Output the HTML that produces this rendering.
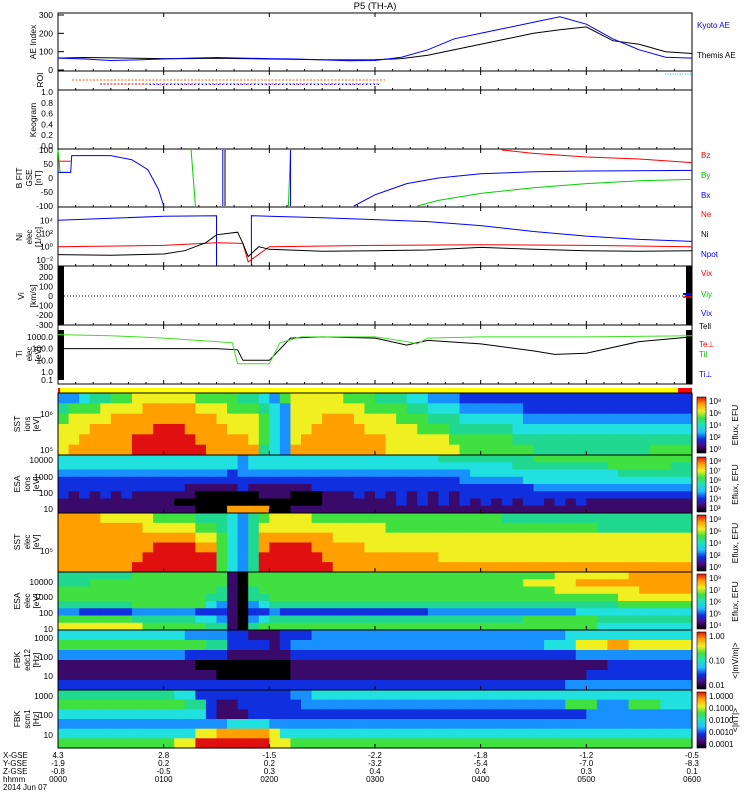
<!DOCTYPE html>
<html><head><meta charset="utf-8"><style>
body{margin:0;background:#fff;}
svg{display:block;font-family:"Liberation Sans",sans-serif;}
</style></head><body>
<svg id="c" width="750" height="800" viewBox="0 0 750 800"></svg>
<script>
// ---- data ----
const aeTimes=[0,0.25,0.5,0.75,1,1.25,1.5,1.75,2,2.25,2.5,2.75,3,3.25,3.5,3.75,4,4.25,4.5,4.75,5,5.25,5.5,5.75,6];
const kyotoAE=[65,60,52,55,60,65,68,65,62,60,55,50,52,70,110,170,200,230,260,290,250,170,110,70,65];
const themisAE=[65,68,66,64,62,62,64,62,60,58,56,55,56,62,80,110,140,170,200,220,235,160,140,100,90];
const bxSegs=[{t:[0,0.12,0.13,0.5,0.7,0.85,0.95,1.0],v:[20,20,80,80,65,30,-40,-100]},{t:[2.8,3.0,3.3,3.6,4.0,4.5,5,6],v:[-100,-60,-20,0,15,22,25,27]},{t:[1.56,1.56],v:[-100,100]},{t:[2.2,2.2],v:[-100,100]}];
const bySegs=[{t:[0,0.02,0.12],v:[100,20,20]},{t:[1.26,1.3],v:[100,-100]},{t:[2.18,2.2],v:[-100,100]},{t:[3.4,3.6,4,4.5,5,5.5,6],v:[-100,-80,-55,-35,-20,-10,-5]}];
const bzSegs=[{t:[0,0.12],v:[60,60]},{t:[4.2,4.5,5,5.5,6],v:[100,88,75,68,55]}];
const btSegs=[{t:[1.58,1.58],v:[-100,100]}];
const npotSegs=[{t:[0,0.5,1,1.5,1.5],v:[4.0,4.3,4.6,4.7,-3.5]},{t:[1.83,1.83,2,2.5,3,3.5,4,4.5,5,5.5,6],v:[-3.5,4.7,4.6,4.4,4.1,3.8,3.2,2.3,1.6,1.1,0.8]}];
const niSegs=[{t:[0,0.5,1,1.2,1.4,1.5,1.7,1.75,1.8,1.9,2.0,2.5,3,3.5,4,4.5,5,5.5,6],v:[-1.2,-1.3,-1.1,-0.6,0.6,1.8,2.2,0.5,-1.5,0,-0.4,-0.7,-0.6,-0.5,-0.1,-0.4,-0.6,-0.7,-0.6]}];
const neSegs=[{t:[0,1,1.5,1.75,1.8,2,3,4,5,6],v:[0,0.2,0.6,0.5,-2.3,0,0.2,0.3,0.2,0]}];
const tiSegs=[{t:[0,0.5,1,1.5,1.65,1.7,2.0,2.1,2.3,3,3.3,3.4,3.5,4,5,6],v:[3.2,3.1,2.9,2.6,2.5,0.7,0.7,2.5,3.0,3.0,2.6,2.4,2.9,3.0,3.0,3.1]}];
const teSegs=[{t:[0,1,1.5,1.7,1.75,2.0,2.2,2.5,3,3.3,3.5,4,4.5,4.7,5,5.5,6],v:[2,2,2,1.9,1,1,2.9,3.0,2.9,2.3,2.7,2.4,1.8,1.5,1.6,2.6,3.0]}];
const sstIon=["334556677777766665543677777666555443332222222222222222222222","566677778888877766654377777776666554443333332222222222222222","677778888888888777764377788877776665554444443333333333333333","777888888999888877764377888887777766655555544444444444444444","778888899999988888764378888888877777766666655555555555555555","788888899999998888854388888888877777776666666555555555556666"];
const esaIon=["444444444444444443444444444444444444555555555666666666666666","444444444444444443444444444444444444444444455555555566666655","333333333333333323333333333333333333333444444444444445555555","222222222222222222222222222222222222223333334444444444444444","222222222222111112111111222222222222222222222333333333333333","212121211111100000011100011121212121212222222222222222222222","111111111110000000000000011111112121212121212212121111111111","111111111111100088880011111111111111111111111111111111111111"];
const sstEle=["888877777666655543567777666666666666666666555555555555555555","888888887777766543577777777777766666666666666666666555555555","888888888888877643588888887777777777777777777777777777777777","888888888999988643589999888887777777777777777777777777777777","888888889999999643599999988888888888777777777777777777777777","888888899999999643599999998888888888888888888888888888888888"];
const esaEle=["555555566666666610666666666666666666666666666667777777888888","555666666666666610666666666666666666666666667777788888888888","666666666666666510566666666666666666666666666667777777788888","666666666666665510556666666666666666666666666666666667777777","555555566666664310345555555555555555555555555555555556666666","332222233333322210223222222222222223333333333333344444444444","666666655555544310345555555555555555555555556666666555555555","777777776666665510566666666666666666666666666666666444444444"];
const fbkEdc=["444444444444333322111222333333333333333333333333444444444444","666666666666665522221233333333333333333333333344477788777777","333333333333222211111122222222222222222222222222233333333333","111111111111100000000011111111111111111111111111111122222222","111111111111111000000011111111111111111111111111112222222222","222222222222222222222222222222222222222222222222333333333333"];
const fbkScm=["555555555554422222222233444444444444444444444444444444444444","666666666666552112222223333333333333333333333333666333666444","444444444444442111222222222222222222222222222222223333333333","333333333333333344443333333333333333333333333333333333333333","444444444444477888887444444444444444444444444444444444444444","666666666667799999997766666666666666666666666666666666666666"];
const xgse=["4.3","2.8","-1.5","-2.2","-1.8","-1.2","-0.5"];
const ygse=["-1.9","0.2","0.2","-3.2","-5.4","-7.0","-8.3"];
const zgse=["-0.8","-0.5","0.3","0.4","0.4","0.3","0.1"];
const hhmm=["0000","0100","0200","0300","0400","0500","0600"];
// ---- helpers ----
const S=document.getElementById('c');const NS='http://www.w3.org/2000/svg';
const X0=58,X1=692;const xs=t=>X0+t*(X1-X0)/6;
function el(tag,a,txt){const e=document.createElementNS(NS,tag);for(const k in a)e.setAttribute(k,a[k]);if(txt!==undefined)e.textContent=txt;S.appendChild(e);return e;}
function text(x,y,s,name,o){o=o||{};const e=el('text',{x:x,y:y,'font-size':o.fs||8.5,fill:o.fill||'#000','text-anchor':o.anchor||'start'},s);if(o.rot)e.setAttribute('transform','rotate(-90 '+x+' '+y+')');

return e;}
const cmap=['#000000','#3a0a6a','#1030e0','#1890ff','#20e0e0','#20d890','#40e040','#f0f020','#ffa000','#e01010'];
function panel(y0,y1,name){const r=el('rect',{x:X0,y:y0,width:X1-X0,height:y1-y0,fill:'none',stroke:'#000','stroke-width':1});


for(let h=0;h<=6;h++){const x=xs(h);el('line',{x1:x,y1:y1,x2:x,y2:y1-4,stroke:'#000'});el('line',{x1:x,y1:y0,x2:x,y2:y0+4,stroke:'#000'});}
for(let m=1;m<36;m++){if(m%6==0)continue;const x=xs(m/6);el('line',{x1:x,y1:y1,x2:x,y2:y1-2,stroke:'#000'});}}
function segs(list,fy,color,name){list.forEach(s=>{const p=s.t.map((t,i)=>xs(t).toFixed(1)+','+fy(s.v[i]).toFixed(1)).join(' ');const e=el('polyline',{points:p,fill:'none',stroke:color,'stroke-width':1});

});}
function spec(rows,y0,y1,name){const nr=rows.length,h=(y1-y0)/nr;rows.forEach((r,ri)=>{const w=(X1-X0)/r.length;for(let i=0;i<r.length;i++){el('rect',{x:X0+i*w,y:y0+ri*h,width:w+0.6,height:h+0.6,fill:cmap[+r[i]]});}});
const b=el('rect',{x:X0,y:y0,width:X1-X0,height:y1-y0,fill:'none',stroke:'#000'});


for(let h=0;h<=6;h++){el('line',{x1:xs(h),y1:y1,x2:xs(h),y2:y1-4,stroke:'#000'});}}
function cbar(y0,y1,labels,unit,name){const g=el('rect',{x:697,y:y0,width:9,height:y1-y0,fill:'url(#rb)',stroke:'#000','stroke-width':0.6});


labels.forEach((l,i)=>{const y=y1-4-(i)*(y1-y0-8)/(labels.length-1||1);text(709,y+3,l,name+'-label',{fs:8});});
text(738,(y0+y1)/2,unit,name+'-unit',{fs:8.5,rot:true,anchor:'middle'});}
// gradient
const defs=el('defs',{});const lg=document.createElementNS(NS,'linearGradient');lg.setAttribute('id','rb');lg.setAttribute('x1','0');lg.setAttribute('y1','1');lg.setAttribute('x2','0');lg.setAttribute('y2','0');
['#000000','#4a0a7a','#1030e0','#20c0ff','#20e0c0','#40e040','#f0f020','#ffa000','#e01010'].forEach((c,i,a)=>{const s=document.createElementNS(NS,'stop');s.setAttribute('offset',i/(a.length-1));s.setAttribute('stop-color',c);lg.appendChild(s);});defs.appendChild(lg);
// ---- title ----
text(375,9,'P5 (TH-A)','plot-title',{fs:9.5,anchor:'middle'});
// AE panel 13-71
const aeY=v=>70-v*(55/300);
panel(13,71,'ae-index-panel');
[0,100,200,300].forEach(v=>{text(53,aeY(v)+3,String(v),'ae-tick',{anchor:'end'});el('line',{x1:X0,y1:aeY(v),x2:X0+6,y2:aeY(v),stroke:'#000'});});
text(36,42,'AE Index','ae-axis-title',{rot:true,anchor:'middle'});
segs([{t:aeTimes,v:themisAE}],aeY,'#000','themis-ae-line');
segs([{t:aeTimes,v:kyotoAE}],aeY,'#0000ff','kyoto-ae-line');
text(697,28,'Kyoto AE','legend-kyoto-ae',{fill:'#0000ff',fs:8});
text(697,58,'Themis AE','legend-themis-ae',{fs:8});
// ROI 71-90
panel(71,90,'roi-panel');text(43,80,'ROI','roi-axis-title',{rot:true,anchor:'middle'});
el('line',{x1:72,y1:80,x2:385,y2:80,stroke:'#ff6000','stroke-dasharray':'2,1.5'});
el('line',{x1:100,y1:84,x2:380,y2:84,stroke:'#e00000','stroke-dasharray':'2,1.5'});
el('line',{x1:150,y1:84.5,x2:380,y2:84.5,stroke:'#0000ff','stroke-dasharray':'1,3'});
el('line',{x1:665,y1:74,x2:692,y2:74,stroke:'#00c0ff','stroke-dasharray':'1,1.5'});
// Keogram 90-149
panel(90,149,'keogram-panel');
[0,0.2,0.4,0.6,0.8,1.0].forEach(v=>{const y=146-v*54;text(53,y+3,v.toFixed(1),'keogram-tick',{anchor:'end'});});
text(36,120,'Keogram','keogram-axis-title',{rot:true,anchor:'middle'});
// B 149-207
const bY=v=>178-v*0.28;panel(149,207,'b-field-panel');
[-100,-50,0,50,100].forEach(v=>text(53,bY(v)+3,String(v),'b-tick',{anchor:'end'}));
text(22,178,'B FIT','b-axis-title',{rot:true,anchor:'middle'});text(32,178,'GSE','b-axis-sub',{rot:true,anchor:'middle',fs:8});text(41,178,'[nT]','b-axis-unit',{rot:true,anchor:'middle'});
segs(bzSegs,bY,'#ff0000','bz-line');segs(bySegs,bY,'#00d000','by-line');segs(bxSegs,bY,'#0000ff','bx-line');segs(btSegs,bY,'#000','bt-line');
text(701,158,'Bz','legend-bz',{fill:'#ff0000',fs:8});text(701,178,'By','legend-by',{fill:'#00c000',fs:8});text(701,198,'Bx','legend-bx',{fill:'#0000ff',fs:8});
// Ni 207-266
const nY=v=>Math.min(265,Math.max(208,246.7-6.6*v));panel(207,266,'density-panel');
[[4,'10⁴'],[2,'10²'],[0,'10⁰'],[-2,'10⁻²']].forEach(a=>text(53,nY(a[0])+3,a[1],'density-tick',{anchor:'end'}));
text(22,237,'Ni','density-axis-title',{rot:true,anchor:'middle'});text(32,237,'elec','density-axis-sub',{rot:true,anchor:'middle',fs:8});text(41,237,'[1/cc]','density-axis-unit',{rot:true,anchor:'middle'});
segs(npotSegs,nY,'#0000ff','npot-line');segs(neSegs,nY,'#ff0000','ne-line');segs(niSegs,nY,'#000','ni-line');
text(701,217,'Ne','legend-ne',{fill:'#ff0000',fs:8});text(701,237,'Ni','legend-ni',{fs:8});text(701,257,'Npot','legend-npot',{fill:'#0000ff',fs:8});
// Vi 266-325
const vY=v=>296-v*0.096;panel(266,325,'velocity-panel');
el('rect',{x:58,y:266,width:6,height:59,fill:'#000'});el('rect',{x:686,y:266,width:6,height:59,fill:'#000'});
[-300,-200,-100,0,100,200,300].forEach(v=>text(53,vY(v)+3,String(v),'velocity-tick',{anchor:'end'}));
el('line',{x1:64,y1:296,x2:686,y2:296,stroke:'#000','stroke-dasharray':'1,2'});
text(24,296,'Vi','velocity-axis-title',{rot:true,anchor:'middle'});text(36,296,'[km/s]','velocity-axis-unit',{rot:true,anchor:'middle'});
el('line',{x1:683,y1:294,x2:692,y2:294,stroke:'#0000ff','stroke-width':2});el('line',{x1:683,y1:297,x2:692,y2:297,stroke:'#ff0000','stroke-width':1.5});
text(701,276,'Vix','legend-vix',{fill:'#ff0000',fs:8});text(701,297,'Viy','legend-viy',{fill:'#00c000',fs:8});text(701,316,'Vix','legend-viz',{fill:'#0000ff',fs:8});
// Ti 325-384
const tY=v=>372-11.7*v;panel(325,384,'temperature-panel');
el('rect',{x:58,y:330,width:6,height:50,fill:'#000'});el('rect',{x:686,y:330,width:6,height:54,fill:'#000'});
[[3,'1000.0'],[2,'100.0'],[1,'10.0'],[0,'1.0'],[-0.7,'0.1']].forEach(a=>text(53,tY(a[0])+3,a[1],'temperature-tick',{anchor:'end'}));
text(22,354,'Ti','temperature-axis-title',{rot:true,anchor:'middle'});text(32,354,'elec','temperature-axis-sub',{rot:true,anchor:'middle',fs:8});text(41,354,'[eV]','temperature-axis-unit',{rot:true,anchor:'middle'});
segs(teSegs,tY,'#000','te-line');segs(tiSegs,tY,'#40e020','ti-line');
text(699,329,'Tell','legend-tell',{fs:8});text(699,347,'Te⊥','legend-teperp',{fill:'#ff0000',fs:8});text(699,357,'Til','legend-til',{fill:'#00c000',fs:8});text(699,377,'Ti⊥','legend-tiperp',{fill:'#0000ff',fs:8});
// mode bar
el('rect',{x:58,y:388,width:620,height:5,fill:'#ffff00'});el('rect',{x:678,y:388,width:14,height:5,fill:'#ff0000'});el('rect',{x:58,y:388,width:2,height:5,fill:'#ff0000'});
// spectrograms
spec(sstIon,393,455,'sst-ion-spectrogram');spec(esaIon,455,513,'esa-ion-spectrogram');spec(sstEle,513,572,'sst-electron-spectrogram');spec(esaEle,572,630,'esa-electron-spectrogram');spec(fbkEdc,630,690,'fbk-edc12-spectrogram');spec(fbkScm,690,748,'fbk-scm1-spectrogram');
text(53,417,'10⁶','sst-ion-tick',{anchor:'end'});text(53,453,'10⁵','sst-ion-tick',{anchor:'end'});
text(20,424,'SST','sst-ion-title',{rot:true,anchor:'middle'});text(30,424,'ions','sst-ion-sub',{rot:true,anchor:'middle',fs:8});text(39,424,'[eV]','sst-ion-unit',{rot:true,anchor:'middle'});
[['10000',463],['1000',480],['100',496],['10',512]].forEach(a=>text(53,a[1],a[0],'esa-ion-tick',{anchor:'end'}));
text(20,484,'ESA','esa-ion-title',{rot:true,anchor:'middle'});text(30,484,'ions','esa-ion-sub',{rot:true,anchor:'middle',fs:8});text(39,484,'[eV]','esa-ion-unit',{rot:true,anchor:'middle'});
text(53,554,'10⁵','sst-ele-tick',{anchor:'end'});
text(20,542,'SST','sst-ele-title',{rot:true,anchor:'middle'});text(30,542,'elec','sst-ele-sub',{rot:true,anchor:'middle',fs:8});text(39,542,'[eV]','sst-ele-unit',{rot:true,anchor:'middle'});
[['10000',585],['1000',600],['100',616],['10',632]].forEach(a=>text(53,a[1],a[0],'esa-ele-tick',{anchor:'end'}));
text(20,601,'ESA','esa-ele-title',{rot:true,anchor:'middle'});text(30,601,'elec','esa-ele-sub',{rot:true,anchor:'middle',fs:8});text(39,601,'[eV]','esa-ele-unit',{rot:true,anchor:'middle'});
[['1000',641],['100',660],['10',679]].forEach(a=>text(53,a[1],a[0],'fbk-edc-tick',{anchor:'end'}));
text(20,660,'FBK','fbk-edc-title',{rot:true,anchor:'middle'});text(30,660,'edc12','fbk-edc-sub',{rot:true,anchor:'middle',fs:8});text(39,660,'[Hz]','fbk-edc-unit',{rot:true,anchor:'middle'});
[['1000',699],['100',718],['10',738]].forEach(a=>text(53,a[1],a[0],'fbk-scm-tick',{anchor:'end'}));
text(20,719,'FBK','fbk-scm-title',{rot:true,anchor:'middle'});text(30,719,'scm1','fbk-scm-sub',{rot:true,anchor:'middle',fs:8});text(39,719,'[Hz]','fbk-scm-unit',{rot:true,anchor:'middle'});
cbar(397,453,['10⁰','10²','10⁴','10⁶','10⁸'],'Eflux, EFU','sst-ion-colorbar');
cbar(457,512,['10³','10⁴','10⁵','10⁶','10⁷','10⁸'],'Eflux, EFU','esa-ion-colorbar');
cbar(515,571,['10⁰','10²','10⁴','10⁶','10⁸'],'Eflux, EFU','sst-ele-colorbar');
cbar(574,629,['10⁴','10⁵','10⁶','10⁷','10⁸'],'Eflux, EFU','esa-ele-colorbar');
cbar(632,689,['0.01','0.10','1.00'],'<|mV/m|>','fbk-edc-colorbar');
cbar(692,748,['0.0001','0.0010','0.0100','0.1000','1.0000'],'<|nT|>','fbk-scm-colorbar');
// bottom axis
const rowsY=[758,766,774,782];
[['X-GSE',xgse],['Y-GSE',ygse],['Z-GSE',zgse],['hhmm',hhmm]].forEach((r,ri)=>{text(3,rowsY[ri],r[0],'axis-row-label',{fs:8});r[1].forEach((v,i)=>text(xs(i),rowsY[ri],v,'time-axis-label',{fs:8,anchor:'middle'}));});
text(3,790,'2014 Jun 07','date-label',{fs:8});
</script>
</body></html>
